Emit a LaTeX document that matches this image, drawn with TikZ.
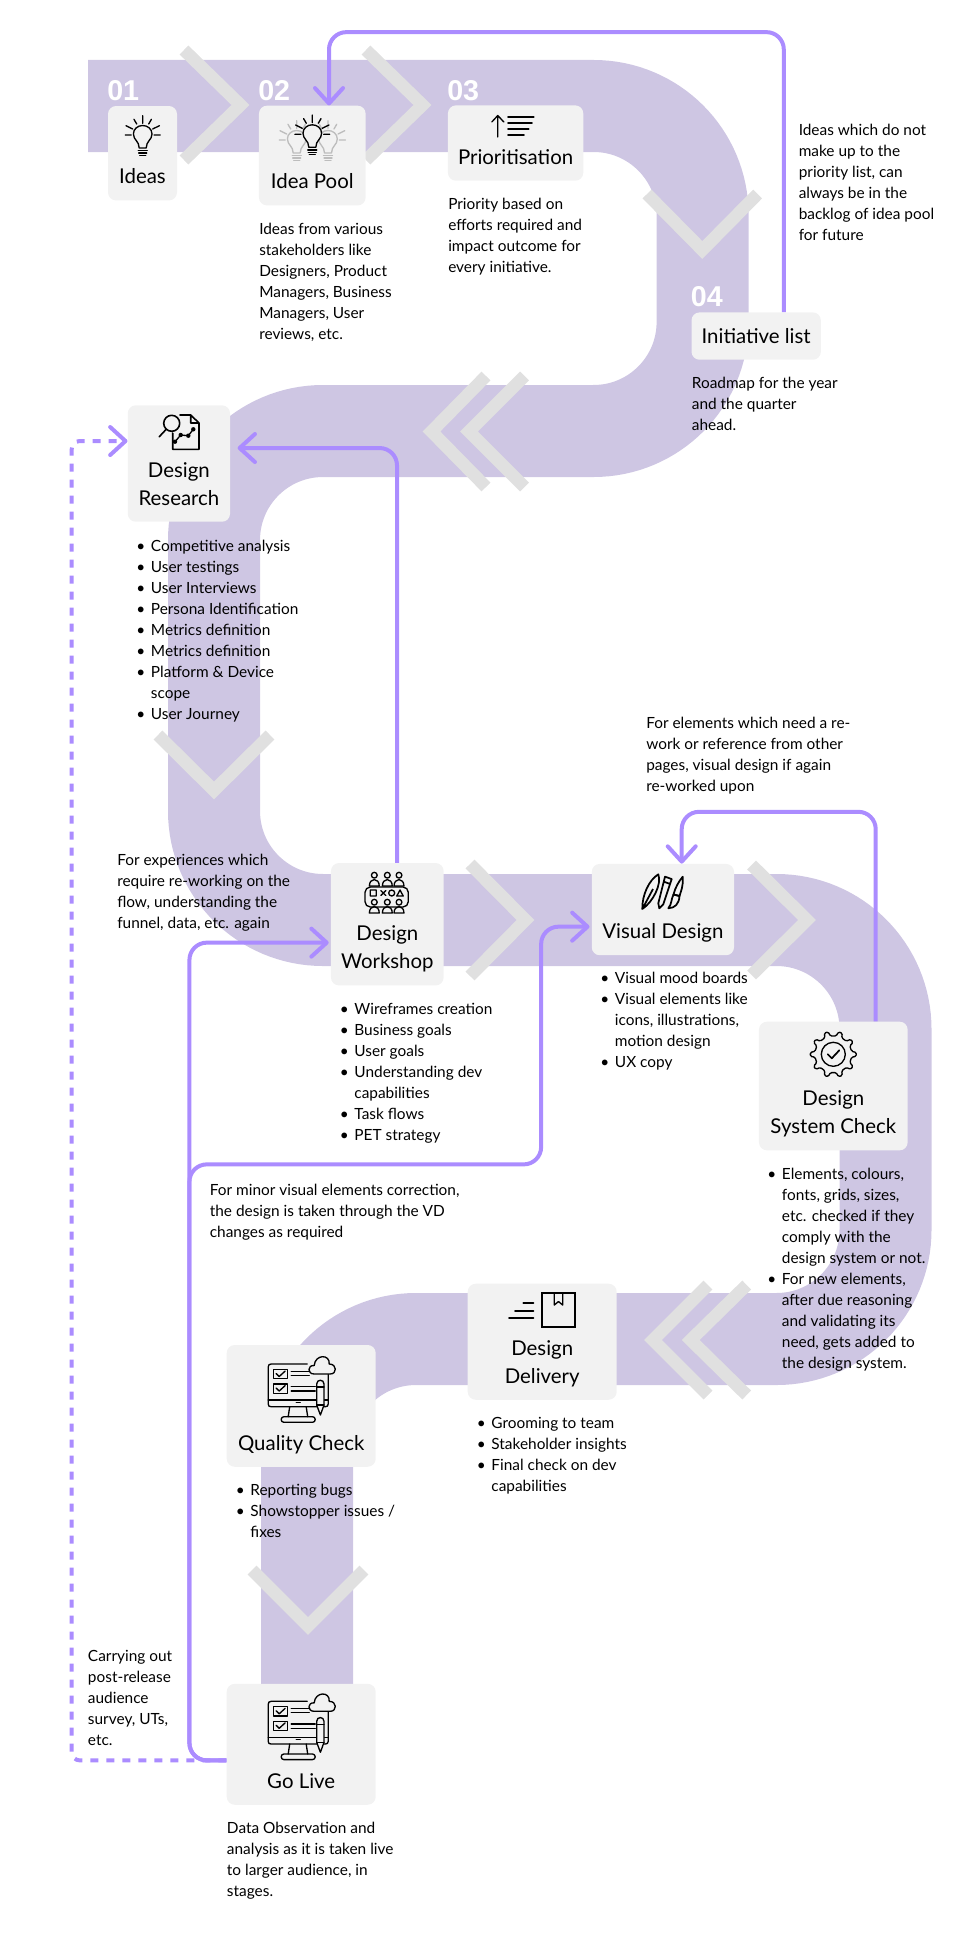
\documentclass[tikz,border=0pt]{standalone}
\usepackage{fontspec}
\usepackage{tikz}
\usetikzlibrary{arrows.meta}
\setmainfont{Lato}
\setsansfont{Liberation Sans}

\definecolor{ribbon}{HTML}{CEC6E3}
\definecolor{chevgrey}{HTML}{E0E0E0}
\definecolor{boxgrey}{HTML}{F2F2F2}
\definecolor{flowpurple}{HTML}{AB8CFF}
\definecolor{iconfade}{HTML}{BDBDBD}

\newcommand{\boxtext}[2]{\rule{0pt}{#1pt}#2\strut}
\newcommand{\itm}{\makebox[11pt][l]{\textbullet}}
\newcommand{\ind}{\hspace*{11pt}}

\tikzset{
  chevron/.style={draw=chevgrey, line width=9.4pt, miter limit=10},
  flowbox/.style={rectangle, rounded corners=6pt, fill=boxgrey, align=center, anchor=south,
    inner ysep=6.2pt, inner xsep=0pt, font=\fontsize{15.3}{21}\selectfont},
  bodytext/.style={align=left, anchor=north west, inner sep=0pt, yshift=-2.2pt,
    font=\fontsize{11.55}{15.75}\selectfont},
  stepnum/.style={anchor=base west, inner sep=0pt, text=white, font=\fontsize{21.5}{24}\sffamily\bfseries},
  flowarrow/.style={draw=flowpurple, line width=3pt, rounded corners=13pt,
    -{Straight Barb[length=11.5pt,width=21pt,round]}},
  iconline/.style={line width=1pt, line cap=round, line join=round},
  bulb/.pic={
    \draw[iconline, fill=boxgrey] (-3.5,13) .. controls (-3.5,6) and (-9.3,5) .. (-9.3,-1) .. controls (-9.3,-6) and (-5,-9.5) .. (0,-9.5) .. controls (5,-9.5) and (9.3,-6) .. (9.3,-1) .. controls (9.3,5) and (3.5,6) .. (3.5,13) -- cycle;
    \draw[iconline] (-4.5,15.7) -- (4.5,15.7) (-4,18) -- (4,18) (-3,20.3) -- (3,20.3);
    \draw[iconline] (0,-19.3) -- (0,-11.7) (-8.7,-15.7) -- (-6,-11) (8.7,-15.7) -- (6,-11) (-16.7,-9.3) -- (-10,-6) (16.7,-9.3) -- (10,-6) (-17.4,0) -- (-11.4,0) (17.4,0) -- (11.4,0);
  },
  monitor/.pic={
    \draw[iconline] (6,-26) -- (-30,-26) .. controls (-32,-26) and (-33,-25) .. (-33,-23) -- (-33,14) .. controls (-33,16) and (-32,16.7) .. (-30,16.7) -- (24,16.7) .. controls (26,16.7) and (27,16) .. (27,14) -- (27,-16);
    \draw[iconline] (-33,10) -- (27,10) (-5,12.3) -- (-1,12.3);
    \draw[iconline] (-11.5,16.7) -- (-13,26.7) (5,16.7) -- (6.5,26.7);
    \draw[iconline, rounded corners=2pt] (-20,26.7) rectangle (14,32.3);
    \draw[iconline] (-28,-20.7) rectangle (-14,-11.3) (-28,-6) rectangle (-14,3.3);
    \draw[iconline] (-25,-16.5) -- (-22,-13.5) -- (-16,-19) (-25,-2) -- (-22,1) -- (-16,-4.5);
    \draw[iconline] (-10,-18.7) -- (8,-18.7) (-10,-14.7) -- (8,-14.7) (-10,-3.3) -- (14,-3.3) (-10,1) -- (14,1);
    \draw[iconline, fill=boxgrey] (13,-16) .. controls (6,-16) and (6,-25) .. (13,-24.5) .. controls (14,-36) and (29,-36) .. (28,-26) .. controls (36,-26) and (36,-16) .. (29,-16) -- cycle;
    \draw[iconline, fill=boxgrey] (15.5,-6) .. controls (15.5,-11) and (22.8,-11) .. (22.8,-6) -- (22.8,15) -- (19.2,25) -- (15.5,15) -- cycle;
    \draw[iconline] (15.5,-3) -- (22.8,-3) (15.5,15) -- (22.8,15);
  },
  person/.pic={
    \draw[iconline] (0,-9) circle (3.2);
    \draw[iconline] (-5.5,3) .. controls (-5.5,-6.5) and (5.5,-6.5) .. (5.5,3) -- cycle;
  }
}

\begin{document}
\begin{tikzpicture}[x=0.75pt, y=-0.75pt]
    \useasboundingbox (0,0) rectangle (979,1934);

    % Ribbon
    \draw[ribbon, line width=69pt, rounded corners=81.75pt] (88,106) -- (702.6,106) -- (702.6,431) -- (214,431) -- (214,920) -- (885.5,920) -- (885.5,1339) -- (307,1339) -- (307,1700);

    % Chevrons
    \draw[chevron] (184,50) -- (240.5,105) -- (184,160);
    \draw[chevron] (366,50) -- (422.5,105) -- (366,160);
    \draw[chevron] (647,194) -- (702.3,250) -- (757.6,194);
    \draw[chevron] (486,376) -- (431.5,431.5) -- (486,487);
    \draw[chevron] (524.6,376) -- (469,431.5) -- (524.6,487);
    \draw[chevron] (158,735) -- (214,790.5) -- (270,735);
    \draw[chevron] (470,864) -- (525.5,920) -- (470,976);
    \draw[chevron] (751.6,865) -- (807,920) -- (751.6,975);
    \draw[chevron] (708,1285) -- (653,1340) -- (708,1395);
    \draw[chevron] (746.7,1285) -- (690.7,1340) -- (746.7,1395);
    \draw[chevron] (252,1570) -- (308,1626) -- (364,1570);

    % Boxes
    \node[flowbox, minimum width=51.75pt] (ideas) at (142.5,200.7) {\boxtext{52.1}{Ideas}};
    \node[flowbox, minimum width=80pt] (ideapool) at (312.3,205.7) {\boxtext{56.1}{Idea Pool}};
    \node[flowbox, minimum width=101.5pt] (prioritisation) at (515.6,181) {\boxtext{37.8}{Prioritisation}};
    \node[flowbox, minimum width=97pt] (initiative) at (756.2,360) {\boxtext{16.8}{Initiative list}};
    \node[flowbox, minimum width=76.7pt] (research) at (178.9,522) {\boxtext{47.6}{Design\\Research}};
    \node[flowbox, minimum width=84.5pt] (workshop) at (387.3,985.7) {\boxtext{52.1}{Design\\Workshop}};
    \node[flowbox, minimum width=106.7pt] (visual) at (662.9,955.5) {\boxtext{49.8}{Visual Design}};
    \node[flowbox, minimum width=111.5pt] (syscheck) at (833.3,1150.6) {\boxtext{56.8}{Design\\System Check}};
    \node[flowbox, minimum width=111.75pt] (delivery) at (542.2,1400) {\boxtext{47.3}{Design\\Delivery}};
    \node[flowbox, minimum width=111.75pt] (quality) at (301.2,1467) {\boxtext{72.6}{Quality Check}};
    \node[flowbox, minimum width=111.75pt] (golive) at (301.2,1805) {\boxtext{72}{Go Live}};

    % Step numbers
    \node[stepnum] (num1) at (107,100) {01};
    \node[stepnum] (num2) at (258,100) {02};
    \node[stepnum] (num3) at (447,100) {03};
    \node[stepnum] (num4) at (690.6,306.7) {04};

    % Icons
    \pic at (142.7,135) {bulb};
    \pic[iconfade] at (296.7,140) {bulb};
    \pic[iconfade] at (328,140) {bulb};
    \pic at (312.3,134.3) {bulb};

    \draw[iconline] (497.8,137) -- (497.8,116) (491.8,122) -- (497.8,115.5) -- (503.8,122);
    \draw[iconline, line width=1.2pt] (508,116.7) -- (533.8,116.7) (508,122.7) -- (532,122.7) (508,128.7) -- (528.7,128.7) (508,135) -- (524,135);

    \draw[iconline, line width=1.2pt] (172.7,433) -- (172.7,449.3) -- (199,449.3) -- (199,423) -- (190.7,415) -- (180,415) (190.7,415) -- (190.7,423) -- (199,423);
    \draw[iconline, line width=1.2pt] (171.7,423.3) circle (8) (166,429.5) -- (159.3,436.7);
    \draw[iconline] (175,441.7) -- (180.7,435) -- (188.3,435.7) -- (193.3,429.3);
    \fill (175,441.7) circle (2.2) (180.7,435) circle (2.2) (188.3,435.7) circle (2.2) (193.3,429.3) circle (2.2);

    \draw[iconline, rounded corners=4pt] (365,887) rectangle (408.3,907);
    \pic[scale=0.9] at (374.3,883.3) {person};
    \pic[scale=0.9] at (387.3,883.3) {person};
    \pic[scale=0.9] at (399,883.3) {person};
    \pic[scale=0.9] at (374.3,910.3) {person};
    \pic[scale=0.9] at (387.3,910.3) {person};
    \pic[scale=0.9] at (399,910.3) {person};
    \draw[iconline] (370.3,890) rectangle (376.3,896) (391.7,893) circle (3);
    \draw[iconline] (396.8,896) -- (400,890) -- (403.2,896) -- cycle;
    \draw[iconline] (380.8,890.5) -- (385.8,895.5) (385.8,890.5) -- (380.8,895.5);

    \begin{scope}[shift={(663,892)}, line width=1.3pt]
      \draw[line join=round] (-20.7,17) .. controls (-21,3) and (-14,-12) .. (-4.7,-17.7) .. controls (-1,-8) and (-10,10) .. (-20.7,17) -- cycle (-20.7,17) -- (-10,-3);
      \draw[line join=round] (-3.7,16.3) -- (-4.7,11.3) -- (2,-15.3) -- (8.7,-13) -- (0.3,12.3) -- cycle (0.8,-10.3) -- (7.3,-8);
      \draw[line join=round] (19.7,-15.3) .. controls (20.5,-6) and (18,-1) .. (16.5,4) -- (10.5,2.5) .. controls (12,-4) and (16,-11) .. (19.7,-15.3) -- cycle;
      \draw[line join=round] (10.5,2.5) -- (16.5,4) .. controls (16,12) and (12,16) .. (5.3,16.3) .. controls (9,12) and (8,7) .. (10.5,2.5) -- cycle;
    \end{scope}

    \begin{scope}[shift={(833.3,1054.3)}]
      \draw[iconline, rounded corners=1pt] (-9:18.5) foreach \a in {0,36,...,324} { -- (\a-9:18.5) -- (\a-5:23) -- (\a+5:23) -- (\a+9:18.5)} -- cycle;
      \draw[iconline] (0,0) circle (12);
      \draw[iconline, line width=1.3pt] (-5.5,0) -- (-1.5,4) -- (6,-4);
    \end{scope}

    \draw[iconline, line width=1.6pt, line cap=butt, line join=miter] (542.3,1293.3) rectangle (575,1326.7);
    \draw[iconline] (554.3,1293.3) -- (554.3,1305) -- (558.5,1301.5) -- (562.7,1305) -- (562.7,1293.3);
    \draw[iconline, line width=1.5pt] (523.3,1302.7) -- (533.3,1302.7) (515,1310.7) -- (533.3,1310.7) (509,1318.3) -- (533.3,1318.3);

    \pic at (301.2,1390) {monitor};
    \pic at (301.2,1727.3) {monitor};

    % Texts
    \node[bodytext] (pooltext) at (259,220) {Ideas from various\\stakeholders like\\Designers, Product\\Managers, Business\\Managers, User\\reviews, etc.};
    \node[bodytext] (priotext) at (448,195) {Priority based on\\efforts required and\\impact outcome for\\every initiative.};
    \node[bodytext] (backlogtext) at (798.5,121) {Ideas which do not\\make up to the\\priority list, can\\always be in the\\backlog of idea pool\\for future};
    \node[bodytext] (roadmaptext) at (691.6,374) {Roadmap for the year\\and the quarter\\ahead.};
    \node[bodytext] (researchlist) at (136,536.7) {\itm Competitive analysis\\\itm User testings\\\itm User Interviews\\\itm Persona Identification\\\itm Metrics definition\\\itm Metrics definition\\\itm Platform \& Device\\\ind scope\\\itm User Journey};
    \node[bodytext] (reworktext) at (117,851) {For experiences which\\require re-working on the\\flow, understanding the\\funnel, data, etc. again};
    \node[bodytext] (workshoplist) at (339.5,1000) {\itm Wireframes creation\\\itm Business goals\\\itm User goals\\\itm Understanding dev\\\ind capabilities\\\itm Task flows\\\itm PET strategy};
    \node[bodytext] (visuallist) at (600,969) {\itm Visual mood boards\\\itm Visual elements like\\\ind icons, illustrations,\\\ind motion design\\\itm UX copy};
    \node[bodytext] (visualnote) at (646,714) {For elements which need a re-\\work or reference from other\\pages, visual design if again\\re-worked upon};
    \node[bodytext] (checklist) at (767,1164.8) {\itm Elements, colours,\\\ind fonts, grids, sizes,\\\ind etc. checked if they\\\ind comply with the\\\ind design system or not.\\\itm For new elements,\\\ind after due reasoning\\\ind and validating its\\\ind need, gets added to\\\ind the design system.};
    \node[bodytext] (minortext) at (209.6,1181) {For minor visual elements correction,\\the design is taken through the VD\\changes as required};
    \node[bodytext] (deliverylist) at (476.5,1413.7) {\itm Grooming to team\\\itm Stakeholder insights\\\itm Final check on dev\\\ind capabilities};
    \node[bodytext] (qualitylist) at (235.5,1481) {\itm Reporting bugs\\\itm Showstopper issues /\\\ind fixes};
    \node[bodytext] (surveytext) at (87.7,1646.7) {Carrying out\\post-release\\audience\\survey, UTs,\\etc.};
    \node[bodytext] (livetext) at (226.7,1818.7) {Data Observation and\\analysis as it is taken live\\to larger audience, in\\stages.};

    % Arrows
    \draw[flowarrow] ([shift={(27.6,0)}]initiative.north) -- ++(0,-280) -| ([shift={(16.7,0)}]ideapool.north);
    \draw[flowarrow, shorten >=5.5pt] ([shift={(9.7,0)}]workshop.north) |- ([shift={(0,-15.5)}]research.east);
    \draw[flowarrow] ([shift={(42.4,0)}]syscheck.north) -- ++(0,-209.6) -| ([shift={(18.8,0)}]visual.north);
    \draw[flowarrow, dashed, dash pattern=on 6pt off 6pt, rounded corners=6pt] ([shift={(0,16.1)}]golive.west) -- ++(-154.7,0) |- ([shift={(0,-22.5)}]research.west);
    \draw[flowarrow, shorten >=1.5pt] ([shift={(0,16.1)}]golive.west) -- ++(-37,0) |- ([shift={(0,18.4)}]workshop.west);
    \draw[flowarrow, shorten >=1.5pt] ([shift={(0,16.1)}]golive.west) -- ++(-37,0) -- ++(0,-596) -- ++(351.7,0) |- ([shift={(0,17.1)}]visual.west);
\end{tikzpicture}
\end{document}
